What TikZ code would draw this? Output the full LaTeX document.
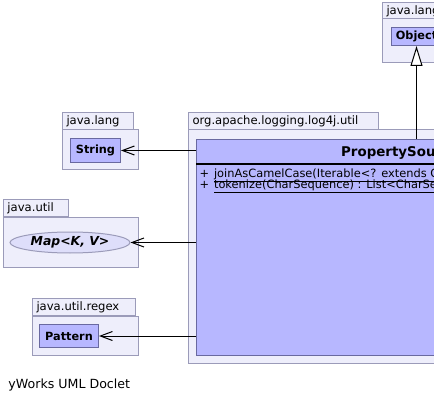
\documentclass[tikz,border=0pt]{standalone}
\usepackage{fontspec}
\setmainfont{DejaVu Sans}
\usetikzlibrary{arrows.meta,shapes.geometric}
\definecolor{pkgfill}{RGB}{238,238,251}
\definecolor{pkgline}{RGB}{155,155,185}
\definecolor{clsfill}{RGB}{183,183,255}
\definecolor{clsline}{RGB}{105,105,160}
\definecolor{ifcfill}{RGB}{222,222,250}

\begin{document}
\begin{tikzpicture}[x=1pt, y=-1pt, line width=1pt,
    pkgtab/.style={draw=pkgline, fill=pkgfill, anchor=north west, inner xsep=4pt,
      inner ysep=0pt, minimum height=17pt, align=left, font=\fontsize{11.6}{13}\selectfont},
    pkgbody/.style={draw=pkgline, fill=pkgfill, anchor=north west, inner sep=0pt},
    classbox/.style={draw=clsline, fill=clsfill, anchor=north west, inner sep=0pt,
      font=\bfseries\fontsize{11.3}{13}\selectfont},
    ifacebox/.style={ellipse, draw=pkgline, fill=ifcfill, inner sep=0pt,
      font=\bfseries\itshape\fontsize{12.4}{14}\selectfont},
    method/.style={anchor=base west, inner sep=0pt, font=\fontsize{11.4}{12}\selectfont},
    dep/.style={-{Straight Barb[length=12pt, width=9pt]}},
    inherit/.style={-{Triangle[length=20pt, width=12pt, fill=white]}}]
  \useasboundingbox (0,0) rectangle (434,401);
  \clip (0,0) rectangle (434,401);
  % packages
  \node[pkgtab, text width=62pt] (langtabA) at (382,2) {java.lang};
  \node[pkgbody, minimum width=70pt, minimum height=44pt] (langpkgA) at (382,18) {};
  \node[pkgtab, text width=63pt] (langtabB) at (62,112) {java.lang};
  \node[pkgbody, minimum width=76pt, minimum height=40pt] (langpkgB) at (62,129) {};
  \node[pkgtab, text width=57pt] (utiltab) at (3,199) {java.util};
  \node[pkgbody, minimum width=135pt, minimum height=50pt] (utilpkg) at (3,217) {};
  \node[pkgtab, text width=95pt] (regextab) at (32,298) {java.util.regex};
  \node[pkgbody, minimum width=106pt, minimum height=39pt] (regexpkg) at (32,316) {};
  \node[pkgtab, text width=182pt] (logtab) at (188,112) {org.apache.logging.log4j.util};
  \node[pkgbody, minimum width=456pt, minimum height=234pt] (logpkg) at (188,129) {};
  % classes
  \node[classbox, minimum width=50pt, minimum height=18pt] (obj) at (391,27) {Object};
  \node[classbox, minimum width=50pt, minimum height=24pt] (str) at (70,138) {String};
  \node[ifacebox, minimum width=120pt, minimum height=21pt] (map) at (70,242.5) {Map<K, V>};
  \node[classbox, minimum width=59pt, minimum height=23pt] (pat) at (39,324) {Pattern};
  \node[classbox, minimum width=440pt, minimum height=216pt] (util) at (196,139) {};
  \node[anchor=base, inner sep=0pt, font=\bfseries\fontsize{13.4}{16}\selectfont]
    (utilname) at (416,157) {PropertySource.Util};
  \draw[line width=2pt] (196,164) -- (636,164);
  \node[method] (join) at (199,177.5)
    {+\hspace{5pt}\underline{joinAsCamelCase(Iterable<? extends CharSequence>) : String}};
  \node[method] (tok) at (199,188.5)
    {+\hspace{5pt}\underline{tokenize(CharSequence) : List<CharSequence>}};
  % relations
  \draw[inherit] (util.north) -- (obj.south);
  \draw[dep] (util.west |- str) -- (str);
  \draw[dep] (util.west |- map) -- (map);
  \draw[dep] (util.west |- pat) -- (pat);
  \node[anchor=base west, inner sep=0pt, font=\fontsize{12.6}{14}\selectfont]
    (doclet) at (8,388) {yWorks UML Doclet};
\end{tikzpicture}
\end{document}
